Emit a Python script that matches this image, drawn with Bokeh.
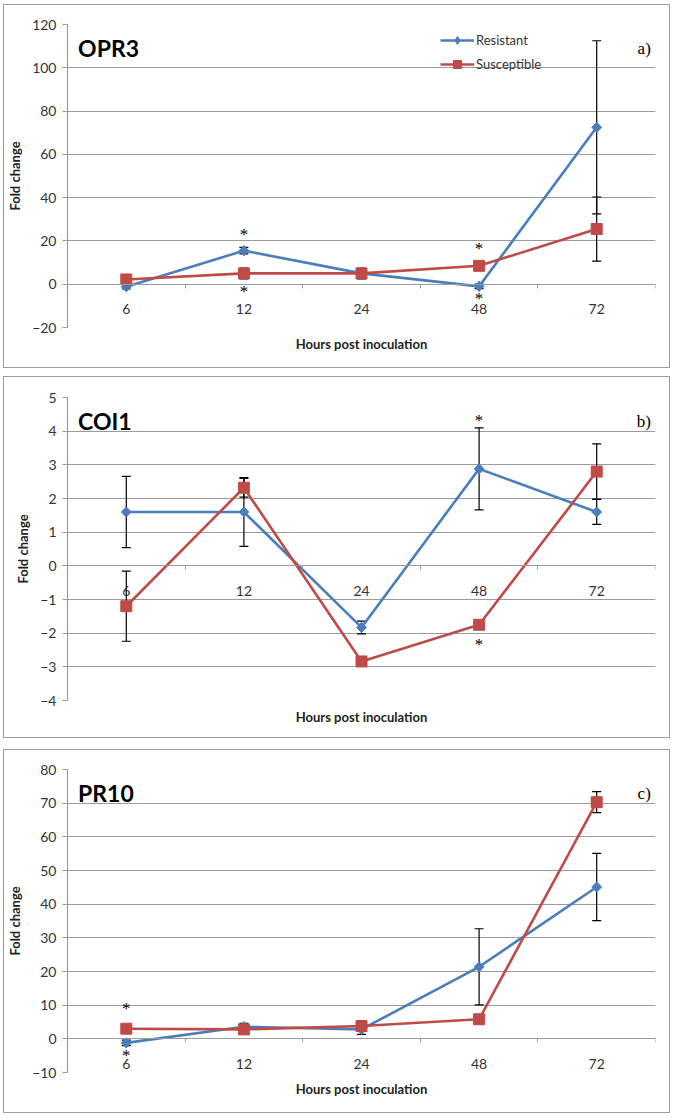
import numpy as np
from bokeh.plotting import figure
from bokeh.models import (Range1d, FixedTicker, LinearAxis, Whisker, ColumnDataSource,
                          Label, Legend, LegendItem, TeeHead)
from bokeh.layouts import column
from bokeh.embed import file_html
from bokeh.resources import INLINE
from bokeh.core.properties import value

# ---------------- data ----------------
hours = ["6", "12", "24", "48", "72"]

opr3_res = [-1.2, 15.5, 5.0, -1.0, 72.5]
opr3_res_err = [1.0, 1.5, 1.5, 1.0, 40.0]
opr3_sus = [2.2, 5.0, 5.0, 8.5, 25.5]
opr3_sus_err = [1.0, 2.5, 2.5, 1.5, 14.8]
opr3_star_idx = [1, 1, 3, 3]
opr3_star_y = [23.0, -3.5, 16.5, -6.5]

coi1_res = [1.6, 1.6, -1.83, 2.88, 1.6]
coi1_res_err = [1.06, 1.02, 0.19, 1.22, 0.37]
coi1_sus = [-1.2, 2.32, -2.84, -1.75, 2.8]
coi1_sus_err = [1.04, 0.28, 0.08, 0.08, 0.82]
coi1_star_idx = [3, 3]
coi1_star_y = [4.33, -2.34]

pr10_res = [-1.2, 3.6, 2.8, 21.4, 45.1]
pr10_res_err = [0.8, 1.0, 1.5, 11.3, 10.0]
pr10_sus = [3.0, 2.8, 3.8, 5.8, 70.3]
pr10_sus_err = [0.6, 0.8, 1.0, 0.8, 3.1]
pr10_star_idx = [0, 0]
pr10_star_y = [9.0, -5.0]

# ---------------- style ----------------
BLUE = "#4A7EBB"
RED = "#BE4B48"
GRID = "#9a9a9a"
TXT = "#333333"
FONT = "Lato"
W = 667


def make_panel(gene, letter, res, res_err, sus, sus_err, star_idx, star_y,
               ylo, yhi, ystep, H, borders, margin, legend=False):
    left, right, top, bottom = borders
    frame_h = H - 2 - top - bottom
    ppu = frame_h / (yhi - ylo)

    def y_below_top(px):
        return yhi - px / ppu

    n = len(hours)
    xs = [i + 0.5 for i in range(n)]
    yticks = list(np.arange(ylo, yhi + ystep / 2, ystep))

    p = figure(width=W, height=H, x_range=Range1d(0, n), y_range=Range1d(ylo, yhi),
               output_backend="svg", toolbar_location=None,
               min_border_left=left, min_border_right=right,
               min_border_top=top, min_border_bottom=bottom,
               margin=margin,
               styles={"border": "1px solid #9c9c9c"})
    p.outline_line_color = None
    p.background_fill_color = "white"
    p.border_fill_color = "white"
    p.xgrid.visible = False
    p.ygrid.ticker = FixedTicker(ticks=yticks)
    p.ygrid.grid_line_color = GRID
    p.ygrid.grid_line_width = 1.2

    ya = p.yaxis[0]
    ya.ticker = FixedTicker(ticks=yticks)
    ya.axis_line_color = GRID
    ya.axis_line_width = 1.2
    ya.major_tick_line_color = GRID
    ya.major_tick_out = 5
    ya.major_tick_in = 0
    ya.minor_tick_line_color = None
    ya.major_label_text_font = FONT
    ya.major_label_text_font_size = "14px"
    ya.major_label_text_color = TXT
    ya.major_label_standoff = 6
    ya.axis_label = "Fold change"
    ya.axis_label_text_font = FONT
    ya.axis_label_text_font_style = "bold"
    ya.axis_label_text_font_size = "13px"
    ya.axis_label_text_color = "#222222"
    ya.axis_label_standoff = 6

    xa = p.xaxis[0]
    xa.ticker = FixedTicker(ticks=[])
    xa.axis_line_color = None
    xa.major_tick_line_color = None
    xa.minor_tick_line_color = None
    xa.axis_label = "Hours post inoculation"
    xa.axis_label_text_font = FONT
    xa.axis_label_text_font_style = "bold"
    xa.axis_label_text_font_size = "13px"
    xa.axis_label_text_color = "#222222"
    xa.axis_label_standoff = 8

    # category boundary ticks on the zero line
    bounds = list(range(n + 1))
    ax_t = LinearAxis(fixed_location=0, ticker=FixedTicker(ticks=bounds),
                      major_label_overrides={b: "" for b in bounds},
                      axis_line_color=GRID, axis_line_width=1.2,
                      major_tick_line_color=GRID, major_tick_out=4, major_tick_in=0,
                      minor_tick_line_color=None)
    p.add_layout(ax_t, "below")
    # category labels below the zero line
    ax_l = LinearAxis(fixed_location=0, ticker=FixedTicker(ticks=xs),
                      major_label_overrides={float(x): h for x, h in zip(xs, hours)},
                      axis_line_color=None, major_tick_line_color=None,
                      minor_tick_line_color=None, major_tick_out=0,
                      major_label_standoff=20,
                      major_label_text_font=FONT, major_label_text_font_size="14px",
                      major_label_text_color=TXT)
    p.add_layout(ax_l, "below")

    lr = p.line(xs, res, line_color=BLUE, line_width=2.6)
    # diamond marker: Bokeh diamond (used in the legend) under a rotated square
    sr = p.scatter(xs, res, marker="diamond", size=10,
                   fill_color=BLUE, line_color=BLUE)
    p.scatter(xs, res, marker="square", angle=np.pi / 4, size=7,
              fill_color=BLUE, line_color=BLUE)
    ls = p.line(xs, sus, line_color=RED, line_width=2.6)
    ss = p.scatter(xs, sus, marker="square", size=11, fill_color=RED, line_color=RED)

    for vals, errs in ((res, res_err), (sus, sus_err)):
        src = ColumnDataSource(dict(x=xs,
                                    upper=[v + e for v, e in zip(vals, errs)],
                                    lower=[v - e for v, e in zip(vals, errs)]))
        wk = Whisker(source=src, base="x", upper="upper", lower="lower",
                     line_color="black", line_width=1.2,
                     upper_head=TeeHead(size=9, line_color="black", line_width=1.2),
                     lower_head=TeeHead(size=9, line_color="black", line_width=1.2))
        p.add_layout(wk)

    p.text(x=[xs[i] for i in star_idx], y=star_y, text=["*"] * len(star_idx),
           text_font=value("Liberation Serif"), text_font_size="17px",
           text_color="black", text_align="center", text_baseline="middle")

    p.add_layout(Label(x=0.09, y=y_below_top(23), text=gene, text_font=FONT,
                       text_font_style="bold",
                       text_font_size="23px", text_color="black",
                       text_baseline="middle", text_align="left"))
    p.add_layout(Label(x=4.96, y=y_below_top(24), text=letter,
                       text_font="Liberation Serif", text_font_size="17px",
                       text_color="black", text_baseline="middle", text_align="right"))

    if legend:
        lg = Legend(items=[LegendItem(label="Resistant", renderers=[lr, sr]),
                           LegendItem(label="Susceptible", renderers=[ls, ss])],
                    location=(373, frame_h - 48), glyph_width=34, glyph_height=20,
                    spacing=4, padding=2, margin=0, label_standoff=2,
                    border_line_color=None, background_fill_alpha=0,
                    label_text_font=FONT, label_text_font_size="13px",
                    label_text_color=TXT)
        p.add_layout(lg)
    return p


p1 = make_panel("OPR3", "a)", opr3_res, opr3_res_err, opr3_sus, opr3_sus_err,
                opr3_star_idx, opr3_star_y, -20, 120, 20, 364, (59, 16, 19, 42),
                (4, 0, 0, 3), legend=True)
p2 = make_panel("COI1", "b)", coi1_res, coi1_res_err, coi1_sus, coi1_sus_err,
                coi1_star_idx, coi1_star_y, -4, 5, 1, 362, (49, 16, 20, 39),
                (8, 0, 0, 3))
p3 = make_panel("PR10", "c)", pr10_res, pr10_res_err, pr10_sus, pr10_sus_err,
                pr10_star_idx, pr10_star_y, -10, 80, 10, 364, (54, 16, 19, 42),
                (11, 0, 0, 3))

layout = column(p1, p2, p3, spacing=0)
open("out.html", "w").write(file_html(layout, INLINE))
